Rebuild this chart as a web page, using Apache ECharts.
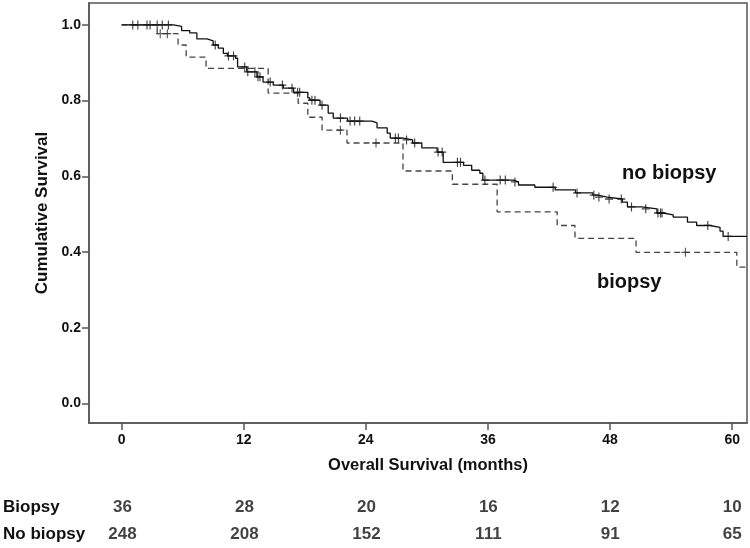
<!DOCTYPE html>
<html>
<head>
<meta charset="utf-8">
<script src="https://cdn.jsdelivr.net/npm/echarts@6/dist/echarts.min.js"></script>
<style>html,body{margin:0;padding:0;background:#fff;}#c{width:750px;height:548px;}</style>
</head>
<body>
<div id="c"></div>
<script>
// ---- data ----
var xTicks = [0, 12, 24, 36, 48, 60];
var yTicks = [0, 0.2, 0.4, 0.6, 0.8, 1.0];

var noBiopsyTime = [0, 5.1, 5.9, 6.7, 7.4, 8.4, 9.0, 9.5, 10.0, 10.4, 11.2, 11.4, 12.3, 13.3, 13.9, 14.9, 15.9, 16.9, 18.3, 18.5, 19.5, 20.3, 20.8, 22.2, 24.6, 25.1, 26.1, 26.4, 27.7, 28.6, 29.5, 31.0, 31.6, 33.6, 34.4, 35.2, 35.5, 38.5, 39.0, 40.6, 42.6, 44.6, 46.3, 46.8, 47.7, 49.2, 49.7, 51.1, 52.6, 53.2, 54.2, 55.6, 56.5, 57.8, 58.8, 59.1, 61.45];
var noBiopsySurv = [1.0, 0.996, 0.985, 0.979, 0.963, 0.958, 0.947, 0.939, 0.925, 0.918, 0.912, 0.889, 0.876, 0.863, 0.849, 0.841, 0.833, 0.822, 0.807, 0.801, 0.788, 0.767, 0.754, 0.746, 0.741, 0.728, 0.714, 0.701, 0.696, 0.688, 0.675, 0.664, 0.637, 0.629, 0.616, 0.608, 0.590, 0.585, 0.577, 0.571, 0.564, 0.556, 0.550, 0.545, 0.540, 0.532, 0.519, 0.514, 0.503, 0.498, 0.492, 0.479, 0.470, 0.465, 0.455, 0.441, 0.441];

var biopsyTime = [0, 3.5, 5.55, 6.35, 8.3, 14.4, 17.35, 18.3, 19.7, 22.15, 27.65, 32.5, 36.9, 42.8, 44.55, 50.55, 60.45, 61.45];
var biopsySurv = [1.0, 0.977, 0.947, 0.915, 0.885, 0.820, 0.793, 0.756, 0.722, 0.688, 0.614, 0.579, 0.506, 0.470, 0.436, 0.399, 0.360, 0.360];

var noBiopsyCensored = [[1.1,1.0],[1.6,1.0],[2.5,1.0],[2.8,1.0],[3.5,1.0],[4.0,1.0],[4.6,1.0],
  [9.2,0.947],[10.5,0.918],[11.0,0.918],[12.1,0.889],[12.4,0.876],[13.1,0.876],[13.4,0.863],[13.6,0.863],
  [14.6,0.849],[15.8,0.841],[16.75,0.833],[17.3,0.822],[17.5,0.822],[18.7,0.801],[19.0,0.801],[19.7,0.788],
  [21.5,0.754],[22.45,0.746],[22.9,0.746],[23.4,0.746],[26.9,0.701],[27.2,0.701],[28.0,0.696],[28.8,0.688],
  [31.1,0.664],[31.5,0.664],[33.0,0.637],[33.3,0.637],[35.7,0.590],[37.2,0.590],[37.7,0.590],[38.65,0.585],
  [42.4,0.571],[44.75,0.556],[46.4,0.550],[46.9,0.545],[47.9,0.540],[49.1,0.540],[50.1,0.519],[51.5,0.514],
  [52.7,0.503],[52.95,0.503],[53.1,0.503],[57.6,0.470],[59.6,0.441]];
var biopsyCensored = [[3.8,0.977],[4.5,0.977],[21.5,0.722],[25.0,0.688],[55.4,0.399]];

var riskGroups = ['Biopsy', 'No biopsy'];
var riskTimes = [0, 12, 24, 36, 48, 60];
var riskBiopsy = [36, 28, 20, 16, 12, 10];
var riskNoBiopsy = [248, 208, 152, 111, 91, 65];

// ---- build ----
function pairs(t, s) { return t.map(function (v, i) { return [v, s[i]]; }); }
var riskData = [];
riskTimes.forEach(function (t, i) {
  riskData.push([t, riskGroups[0], riskBiopsy[i]]);
  riskData.push([t, riskGroups[1], riskNoBiopsy[i]]);
});

var FONT = 'Arial, "Liberation Sans", Helvetica, sans-serif';
var AX = '#555';
var plus = 'path://M5,0 L5,10 M0,5 L10,5';
var X_MIN = -3.2, X_MAX = 61.45;

var chart = echarts.init(document.getElementById('c'), null, {renderer: 'canvas'});
chart.setOption({
  animation: false,
  backgroundColor: '#fff',
  grid: [
    {left: 89, right: 3, top: 3, bottom: 125, show: true, borderColor: AX, borderWidth: 1.5, backgroundColor: 'transparent'},
    {left: 89, right: 3, top: 494, bottom: 0}
  ],
  xAxis: [
    {
      type: 'value', gridIndex: 0, min: X_MIN, max: X_MAX,
      name: 'Overall Survival (months)', nameLocation: 'middle', nameGap: 34,
      nameTextStyle: {fontFamily: FONT, fontWeight: 'bold', fontSize: 16.5, color: '#111', padding: [0, 0, 0, 20]},
      axisLine: {show: true, onZero: false, lineStyle: {color: AX, width: 1.5}},
      axisTick: {show: true, length: 7, customValues: xTicks, lineStyle: {color: AX, width: 1.5}},
      axisLabel: {customValues: xTicks, margin: 10, fontFamily: FONT, fontWeight: 'bold', fontSize: 14, color: '#111'},
      splitLine: {show: false}
    },
    {
      type: 'value', gridIndex: 1, min: X_MIN, max: X_MAX,
      axisLine: {show: false}, axisTick: {show: false}, axisLabel: {show: false}, splitLine: {show: false}
    }
  ],
  yAxis: [
    {
      type: 'value', gridIndex: 0, min: -0.052, max: 1.058,
      name: 'Cumulative Survival', nameLocation: 'middle', nameGap: 30, nameRotate: 90,
      nameTextStyle: {fontFamily: FONT, fontWeight: 'bold', fontSize: 17, color: '#111'},
      axisLine: {show: true, onZero: false, lineStyle: {color: AX, width: 1.5}},
      axisTick: {show: true, length: 7, customValues: yTicks, lineStyle: {color: AX, width: 1.5}},
      axisLabel: {customValues: yTicks, margin: 8, fontFamily: FONT, fontWeight: 'bold', fontSize: 14, color: '#111',
        formatter: function (v) { return v.toFixed(1); }},
      splitLine: {show: false}
    },
    {
      type: 'category', gridIndex: 1, data: riskGroups, inverse: true,
      axisLine: {show: false}, axisTick: {show: false}, splitLine: {show: false},
      axisLabel: {align: 'left', margin: 87, fontFamily: FONT, fontWeight: 'bold', fontSize: 17, color: '#111'}
    }
  ],
  series: [
    {
      name: 'no biopsy', type: 'line', step: 'end', xAxisIndex: 0, yAxisIndex: 0,
      data: pairs(noBiopsyTime, noBiopsySurv), showSymbol: false, symbol: 'none',
      lineStyle: {color: '#111', width: 1.3}, z: 3
    },
    {
      name: 'biopsy', type: 'line', step: 'end', xAxisIndex: 0, yAxisIndex: 0,
      data: pairs(biopsyTime, biopsySurv), showSymbol: false, symbol: 'none',
      lineStyle: {color: '#444', width: 1.3, type: [6, 4]}, z: 2
    },
    {
      name: 'no biopsy censored', type: 'scatter', xAxisIndex: 0, yAxisIndex: 0,
      data: noBiopsyCensored, symbol: plus, symbolSize: [8, 9],
      itemStyle: {color: 'transparent', borderColor: '#111', borderWidth: 1.2}, z: 4
    },
    {
      name: 'biopsy censored', type: 'scatter', xAxisIndex: 0, yAxisIndex: 0,
      data: biopsyCensored, symbol: plus, symbolSize: [8, 9],
      itemStyle: {color: 'transparent', borderColor: '#333', borderWidth: 1.2}, z: 4
    },
    {
      name: 'at risk', type: 'scatter', xAxisIndex: 1, yAxisIndex: 1,
      data: riskData, symbolSize: 0,
      label: {show: true, position: 'inside', formatter: function (p) { return p.value[2]; },
        fontFamily: FONT, fontWeight: 'bold', fontSize: 17, color: '#111'}
    }
  ],
  graphic: [
    {type: 'text', left: 622, top: 163, style: {text: 'no biopsy', font: 'bold 20px ' + FONT, fill: '#111'}},
    {type: 'text', left: 597, top: 272, style: {text: 'biopsy', font: 'bold 20px ' + FONT, fill: '#111'}}
  ]
});
</script>
</body>
</html>
